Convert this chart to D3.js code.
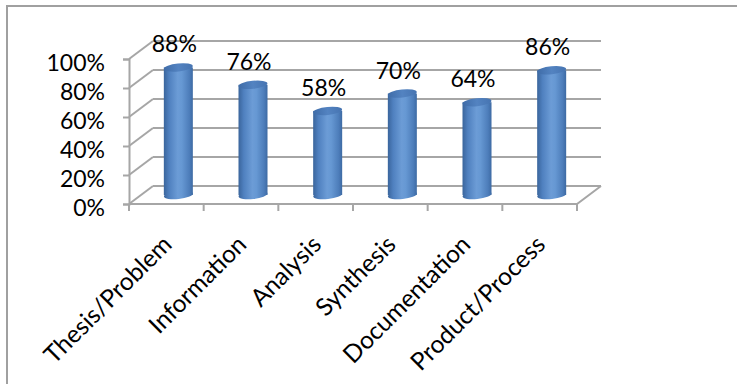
<!DOCTYPE html>
<html>
<head>
<meta charset="utf-8">
<script src="https://cdn.jsdelivr.net/npm/d3@7"></script>
<style>
  html, body { margin: 0; padding: 0; background: #fff; }
  svg { display: block; font-family: Lato, "Open Sans", sans-serif; }
  text { font-weight: 400; }
</style>
</head>
<body>
<svg id="chart" width="737" height="384"></svg>
<script>
// Share of work meeting each criterion
const categories = ["Thesis/Problem", "Information", "Analysis", "Synthesis", "Documentation", "Product/Process"];
const values = [0.88, 0.76, 0.58, 0.70, 0.64, 0.86];
const yTicks = [0, 0.2, 0.4, 0.6, 0.8, 1.0];

const svg = d3.select("#chart");
const W = 737, H = 384;
const fontSize = 23;

// 3-D box: front plane and the offset to the back wall
const depth = { dx: 24, dy: -18 };
const x = d3.scaleBand().domain(categories).range([129, 577]).padding(0);
const y = d3.scaleLinear().domain([0, 1]).range([204, 59]);
const fmt = d3.format(".0%");
const gridColor = "#a6a6a6";

// outer frame
svg.append("path")
  .attr("d", `M7,${H + 2} L7,6 L${W + 2},6`)
  .attr("fill", "none").attr("stroke", "#a0a0a0").attr("stroke-width", 2);

const defs = svg.append("defs");
const bodyGrad = defs.append("linearGradient").attr("id", "cylBody")
  .attr("x1", "0%").attr("x2", "100%").attr("y1", "0%").attr("y2", "0%");
[["0%", "#3a659c"], ["18%", "#4f80bf"], ["48%", "#6c9cd6"], ["62%", "#6698d3"], ["88%", "#4d7dba"], ["100%", "#3d6aa3"]]
  .forEach(([o, c]) => bodyGrad.append("stop").attr("offset", o).attr("stop-color", c));
const capGrad = defs.append("linearGradient").attr("id", "cylTop")
  .attr("x1", "0%").attr("x2", "100%").attr("y1", "0%").attr("y2", "0%");
[["0%", "#3f6ca8"], ["50%", "#5383c1"], ["100%", "#4674b1"]]
  .forEach(([o, c]) => capGrad.append("stop").attr("offset", o).attr("stop-color", c));

const grid = svg.append("g").attr("fill", "none").attr("stroke", gridColor).attr("stroke-width", 2);
const [x0, x1] = x.range();

// back wall gridlines and side wall diagonals
yTicks.forEach(t => {
  const yf = y(t), yb = y(t) + depth.dy;
  grid.append("line").attr("x1", x0 + depth.dx).attr("x2", x1 + depth.dx).attr("y1", yb).attr("y2", yb);
  grid.append("line").attr("x1", x0).attr("y1", yf).attr("x2", x0 + depth.dx).attr("y2", yb);
});
// floor outline
grid.append("path")
  .attr("d", `M${x0},${y(0)} L${x1},${y(0)} L${x1 + depth.dx},${y(0) + depth.dy}`);

// front value axis
const yAxis = svg.append("g").attr("transform", `translate(${x0},0)`)
  .call(d3.axisLeft(y).tickValues(yTicks).tickFormat(fmt).tickSize(6).tickPadding(18));
yAxis.select(".domain").attr("stroke", gridColor).attr("stroke-width", 2);
yAxis.selectAll(".tick line").attr("stroke", gridColor).attr("stroke-width", 2);
yAxis.selectAll(".tick text")
  .attr("font-size", fontSize).attr("font-family", "Lato, sans-serif").attr("fill", "#000").attr("dy", "0.5em");

// category axis: tick marks on band edges
const edges = categories.map(c => x(c)).concat([x1]);
svg.append("g").selectAll("line").data(edges).join("line")
  .attr("x1", d => d).attr("x2", d => d).attr("y1", y(0)).attr("y2", y(0) + 7)
  .attr("stroke", gridColor).attr("stroke-width", 2);

const xAxis = svg.append("g").attr("transform", `translate(0,${y(0)})`)
  .call(d3.axisBottom(x).tickSize(0).tickPadding(0));
xAxis.select(".domain").remove();
xAxis.selectAll(".tick text")
  .attr("font-size", 24.5).attr("font-family", "Lato, sans-serif").attr("fill", "#000")
  .attr("text-anchor", "end")
  .attr("dy", 0).attr("y", 0)
  .attr("transform", "translate(7,42) rotate(-45)");

// cylinders, centred half-way into the depth
const rx = 14.5, ry = 4, tilt = -6;
const cx = c => x(c) + x.bandwidth() / 2 + depth.dx / 2;
const yv = v => y(v) + depth.dy / 2;

const cyl = svg.append("g").selectAll("g").data(categories.map((c, i) => ({ c, v: values[i] }))).join("g");
cyl.append("ellipse")
  .attr("cx", d => cx(d.c)).attr("cy", yv(0)).attr("rx", rx).attr("ry", ry)
  .attr("transform", d => `rotate(${tilt},${cx(d.c)},${yv(0)})`)
  .attr("fill", "url(#cylBody)");
cyl.append("rect")
  .attr("x", d => cx(d.c) - rx).attr("width", rx * 2)
  .attr("y", d => yv(d.v)).attr("height", d => yv(0) - yv(d.v))
  .attr("fill", "url(#cylBody)");
cyl.append("ellipse")
  .attr("cx", d => cx(d.c)).attr("cy", d => yv(d.v)).attr("rx", rx).attr("ry", ry)
  .attr("transform", d => `rotate(${tilt},${cx(d.c)},${yv(d.v)})`)
  .attr("fill", "url(#cylTop)");

// value labels
svg.append("g").selectAll("text").data(categories.map((c, i) => ({ c, v: values[i] }))).join("text")
  .attr("x", d => cx(d.c) - 4).attr("y", d => yv(d.v) - 15)
  .attr("text-anchor", "middle").attr("font-size", fontSize).attr("fill", "#000")
  .text(d => fmt(d.v));
</script>
</body>
</html>
